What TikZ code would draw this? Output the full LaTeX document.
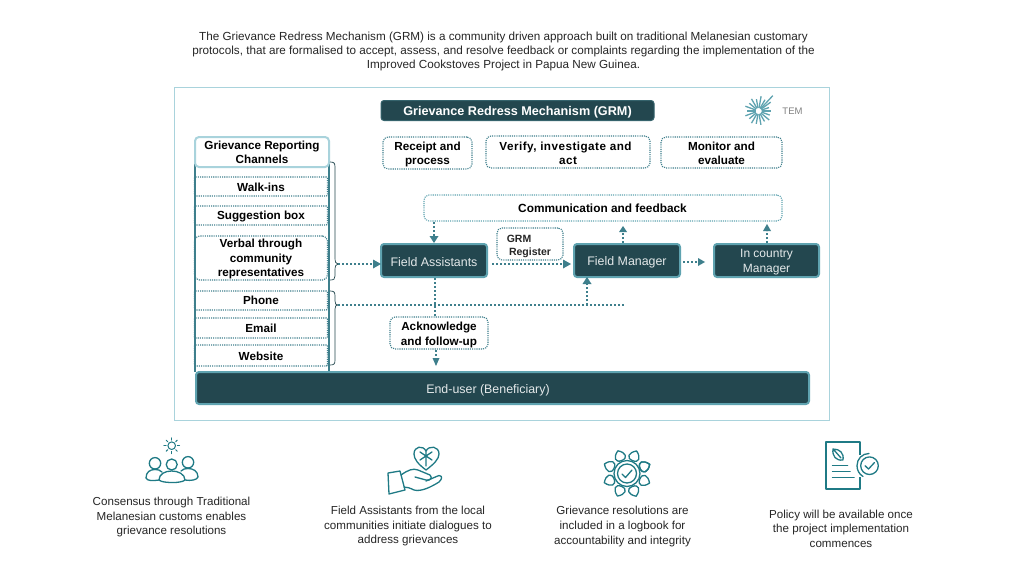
\documentclass[tikz,border=0pt]{standalone}
\usepackage{fontspec}
\setmainfont{Liberation Sans}
\usetikzlibrary{arrows.meta,calc}
\definecolor{dark}{HTML}{23474F}
\definecolor{teal1}{HTML}{3E7F8C}
\definecolor{edge}{HTML}{5FA3B0}
\definecolor{pale}{HTML}{A9D3DC}
\definecolor{icon}{HTML}{1F7A85}
\definecolor{txt}{HTML}{262626}
\tikzset{
 darkbox/.style={draw=edge,line width=2pt,fill=dark,rounded corners=3pt,inner sep=0pt},
 dotbox/.style={draw=teal1,line width=1.1pt,dash pattern=on 1.1pt off 1.1pt,rounded corners=5pt,inner sep=0pt},
 chanbox/.style={dotbox,rounded corners=1pt},
 dlab/.style={text=white!88!dark,font=\fontsize{12.4}{15}\selectfont,align=center,inner sep=0pt,yshift=-2pt},
 blab/.style={text=black,font=\fontsize{11.7}{14.2}\bfseries\selectfont,align=center,inner sep=0pt,yshift=-1pt},
 flow/.style={draw=teal1,line width=2pt,dash pattern=on 2pt off 2pt},
 tipfill/.style={fill=teal1,draw=none},
 bracel/.style={draw=dark,line width=.7pt},
 captext/.style={font=\fontsize{11.6}{14.6}\selectfont,align=center,text=txt,inner sep=0pt},
 ic/.style={draw=icon,line width=1.3pt,line cap=round,line join=round},
}
\begin{document}
\begin{tikzpicture}[x=1pt,y=-1pt]
\useasboundingbox (0,0) rectangle (1024,576);
\fill[white] (0,0) rectangle (1024,576);
\node[captext,font=\fontsize{11.7}{14}\selectfont] (intro) at (503.5,51) {The Grievance Redress Mechanism (GRM) is a community driven approach built on traditional Melanesian customary\\protocols, that are formalised to accept, assess, and resolve feedback or complaints regarding the implementation of the\\Improved Cookstoves Project in Papua New Guinea.};
\node[draw=pale,line width=1pt,minimum width=655,minimum height=333,inner sep=0pt] (frame) at (501.5,253.5) {};
\node[darkbox,draw=dark!70!edge,line width=1pt,minimum width=273,minimum height=20,label={[dlab,text=white,font=\fontsize{12.65}{14}\bfseries\selectfont]center:{Grievance Redress Mechanism (GRM)}}] (title) at (517.5,110.5) {};
% logo
\foreach \a/\r in {0/12,18/11,36/15,47/21,60/13,80/15,100/12,120/14,140/12,160/14,180/12,200/14,220/12,240/14,260/13,280/14,300/12,320/14,340/12}
  \draw[draw=edge,line width=1.3pt] ($(758.5,111)+(-\a:3)$) -- ($(758.5,111)+(-\a:\r)$);
\node[text=gray,font=\fontsize{9.5}{10}\selectfont,inner sep=0pt] (tem) at (792.5,111) {TEM};
% left rails
\coordinate (railAt) at (195,160); \coordinate (railAb) at (195,372);
\coordinate (railBt) at (329,160); \coordinate (railBb) at (329,372);
\draw[teal1,line width=1.1pt] (railAt) -- (railAb);
\draw[teal1,line width=1.1pt] (railBt) -- (railBb);
\node[dotbox,draw=pale,solid,line width=2pt,fill=white,rounded corners=4pt,minimum width=134,minimum height=30,label={[blab,yshift=1pt]center:{Grievance Reporting\\Channels}}] (chan) at (262,152) {};
\node[chanbox,minimum width=133,minimum height=19,label={[blab]center:{Walk-ins}}] (walk) at (261,186.5) {};
\node[chanbox,minimum width=133,minimum height=19,label={[blab]center:{Suggestion box}}] (sugg) at (261,215.5) {};
\node[dotbox,minimum width=133,minimum height=44,label={[blab]center:{Verbal through\\community\\representatives}}] (verb) at (261,258) {};
\node[chanbox,minimum width=133,minimum height=19,label={[blab,yshift=1pt]center:{Phone}}] (phone) at (261,300.5) {};
\node[chanbox,minimum width=133,minimum height=20,label={[blab,yshift=1pt]center:{Email}}] (email) at (261,328) {};
\node[chanbox,minimum width=133,minimum height=21,label={[blab]center:{Website}}] (web) at (261,355.5) {};
% braces
\coordinate (b1) at (338,264); \coordinate (b2) at (338,305);
\draw[bracel] (330,162) .. controls (334,162) and (335,163) .. (335,167) -- (335,258) .. controls (335,262) and (336,264) .. (b1) .. controls (336,264) and (335,266) .. (335,270) -- (335,276) .. controls (335,279) and (334,280) .. (330,280);
\draw[bracel] (330,291) .. controls (334,291) and (335,292) .. (335,296) -- (335,301) .. controls (335,304) and (336,305) .. (b2) .. controls (336,305) and (335,306) .. (335,309) -- (335,360) .. controls (335,364) and (334,365) .. (330,365);
% process boxes
\node[dotbox,minimum width=89,minimum height=32,label={[blab,yshift=-.5pt]center:{Receipt and\\process}}] (rec) at (427.5,153) {};
\node[dotbox,minimum width=164,minimum height=32,label={[blab,font=\fontsize{11.7}{14.2}\bfseries\addfontfeature{LetterSpace=4}]center:{\hspace*{-5pt}Verify, investigate and\\act}}] (ver) at (568,152) {};
\node[dotbox,minimum width=121,minimum height=31,label={[blab]center:{Monitor and\\evaluate}}] (mon) at (721.5,152.5) {};
\node[dotbox,draw=edge,minimum width=358,minimum height=26,label={[blab,yshift=1pt,font=\fontsize{11.85}{14}\bfseries\selectfont,xshift=-.5pt]center:{Communication and feedback}}] (comm) at (603,208) {};
\node[dotbox,minimum width=66,minimum height=32,label={[blab,text=txt,yshift=-1.5pt,font=\fontsize{10.5}{13}\bfseries\selectfont]center:{GRM\hspace*{22pt}\\Register}}] (reg) at (530,244) {};
\node[dotbox,minimum width=98,minimum height=32,label={[blab,yshift=-1pt]center:{Acknowledge\\and follow-up}}] (ack) at (439,333) {};
\node[darkbox,minimum width=106,minimum height=33,label={[dlab]center:{Field Assistants}}] (fa) at (434,260.5) {};
\node[darkbox,minimum width=106,minimum height=33,label={[dlab]center:{Field Manager}}] (fm) at (627,260.5) {};
\node[darkbox,minimum width=105,minimum height=33,label={[dlab,font=\fontsize{12}{15}\selectfont]center:{In country\\Manager}}] (icm) at (766.5,260.5) {};
\node[darkbox,minimum width=613,minimum height=32,label={[dlab,xshift=-14.5pt]center:{End-user (Beneficiary)}}] (eu) at (502.5,388) {};
% connectors
\coordinate (a1e) at (375,264);
\coordinate (b2e) at (624,305);
\coordinate (j1) at (587,305);
\coordinate (j2) at (435,305);
\draw[flow] (b1) -- (a1e);
\fill[tipfill] (373,259.5) -- (381,264) -- (373,268.5) -- cycle;
\draw[flow] (b2) -- (b2e);
\draw[flow] (j2 |- fa.south) -- (j2 |- ack.north);
\draw[flow] (j1) -- (587,284);
\fill[tipfill] (582.5,284) -- (587,277) -- (591.5,284) -- cycle;
\draw[flow] (434,222) -- (434,236);
\fill[tipfill] (429.5,236) -- (434,243) -- (438.5,236) -- cycle;
\draw[flow] (492,264) -- (563,264);
\fill[tipfill] (563,259.5) -- (571,264) -- (563,268.5) -- cycle;
\draw[flow] (623,243) -- (623,232);
\fill[tipfill] (619,232) -- (623,226) -- (627,232) -- cycle;
\draw[flow] (683,262) -- (698,262);
\fill[tipfill] (698,258) -- (705,262) -- (698,266) -- cycle;
\draw[flow] (767,243) -- (767,231);
\fill[tipfill] (763,231) -- (767,224) -- (771,231) -- cycle;
\draw[flow] (436,350) -- (436,358);
\fill[tipfill] (432.5,358) -- (436,366) -- (439.5,358) -- cycle;
% icon 1: people and sun
\draw[ic,line width=1pt] (171.7,445.7) circle (3.8);
\foreach \a in {0,45,...,315} \draw[ic,line width=1pt] ($(171.7,445.7)+(\a:5.6)$) -- ($(171.7,445.7)+(\a:7.8)$);
\draw[ic] (155,463.3) circle (5.7) (188,462.3) circle (5.7) (171.7,464.5) circle (5.5);
\draw[ic] (146,478) .. controls (146,472) and (150,469.5) .. (155,469.5) .. controls (158,469.5) and (160,470) .. (162,472);
\draw[ic] (146,478) .. controls (147,481) and (153,481) .. (159,480);
\draw[ic] (198,477) .. controls (198,471) and (193,468.5) .. (188,468.5) .. controls (185,468.5) and (183,469) .. (181,471);
\draw[ic] (198,477) .. controls (197,480) and (191,481) .. (185,480);
\draw[ic] (159,480) .. controls (159,474) and (165,471) .. (171.7,471) .. controls (178,471) and (185,474) .. (185,480) .. controls (183,482) and (177,482.5) .. (173,482.5) .. controls (167,482.5) and (161,482) .. (159,480);
% icon 2: hand and leaf heart
\draw[ic] (426,470) .. controls (418,464) and (414,459) .. (414,454) .. controls (414,446) and (423,445) .. (426,451) .. controls (429,445) and (439,446) .. (439,454) .. controls (439,459) and (434,464) .. (426,470) -- cycle;
\draw[ic] (426,451) -- (426,466) (426,456) -- (420,452) (426,456) -- (432,452) (426,456) -- (420,460) (426,456) -- (432,460);
\draw[ic] (388,473) -- (400,471) -- (405,490) -- (389,494) -- cycle;
\draw[ic] (401,475) .. controls (408,470) and (413,468) .. (418,470) -- (430,475) .. controls (433,478) and (430,481) .. (426,480) -- (415,477);
\draw[ic] (426,481) .. controls (431,479) and (435,477) .. (439,475.5) .. controls (443,476) and (442,479) .. (439,482) .. controls (431,487) and (421,492) .. (414,490) .. controls (410,488) and (407,487) .. (404,487);
% icon 3: flower
\draw[ic] (627,473.5) circle (9.5);
\draw[ic] (622,474) -- (625.5,477.5) -- (632,470);
\draw[ic] (627,473.5) circle (13);
\foreach \a in {22,67,...,382}
  \draw[ic,rotate around={\a:(627,473.5)}] (641,473.5) .. controls (641,466.5) and (647,466.5) .. (651.5,473.5) .. controls (647,480.5) and (641,480.5) .. (641,473.5) -- cycle;
% icon 4: document
\draw[ic,line width=1.3pt,line cap=butt] (860,455) -- (860,442) -- (826,442) -- (826,489) -- (860,489) -- (860,477);
\draw[ic] (833,449) .. controls (840,449) and (844,453) .. (843,460) .. controls (836,461) and (832,456) .. (833,449) -- cycle (834,450) -- (841,458);
\draw[ic,line width=1.5pt] (832.5,465.7) -- (847.5,465.7) (832.5,471.7) -- (850,471.7) (832.5,477.3) -- (854,477.3);
\draw[ic] (869.5,465.7) circle (8.8);
\draw[ic] (869,453.5) .. controls (862,453.5) and (857,459) .. (857,465.7) .. controls (857,470) and (859,474) .. (863,476.5);
\draw[ic] (865,465.7) -- (868.5,469) -- (874.5,462.5);
% captions
\node[captext] (c1) at (171.5,517) {Consensus through Traditional\\Melanesian customs enables\\grievance resolutions};
\node[captext] (c2) at (408,526) {Field Assistants from the local\\communities initiate dialogues to\\address grievances};
\node[captext] (c3) at (622.5,526.5) {Grievance resolutions are\\included in a logbook for\\accountability and integrity};
\node[captext] (c4) at (841,528.5) {Policy will be available once\\the project implementation\\commences};
\end{tikzpicture}
\end{document}
